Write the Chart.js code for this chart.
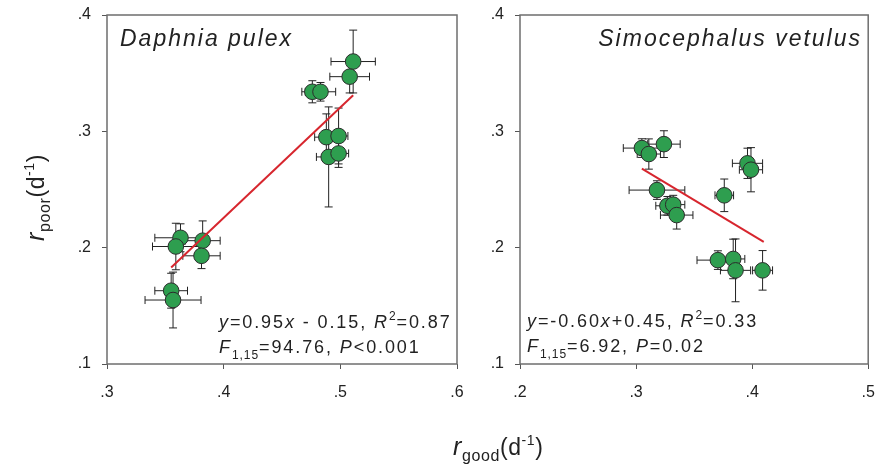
<!DOCTYPE html>
<html>
<head>
<meta charset="utf-8">
<script src="https://cdn.jsdelivr.net/npm/chart.js@4.4.1/dist/chart.umd.min.js"></script>
<style>
  html, body { margin: 0; padding: 0; background: #fff; overflow: hidden; }
  #wrap { position: relative; width: 877px; height: 465px; font-family: 'Liberation Sans', Arial, sans-serif; color: #222; }
  .pane { position: absolute; top: 0; }
  .atitle { position: absolute; font-size: 23px; white-space: nowrap; line-height: 26px; height: 26px; letter-spacing: 0.6px; }
  .atitle i { font-size: 25px; }
  .atitle sub { font-size: 16px; vertical-align: -6px; }
  .atitle sup { font-size: 14px; vertical-align: 10px; }
</style>
</head>
<body>
<div id="wrap">
  <div class="pane" style="left:0;width:470px;height:465px"><canvas id="c1" width="470" height="465"></canvas></div>
  <div class="pane" style="left:470px;width:407px;height:465px"><canvas id="c2" width="407" height="465"></canvas></div>
  <div class="atitle" id="xtitle" style="left:453px;top:427px"><i>r</i><sub>good</sub>(d<sup>-1</sup>)</div>
  <div class="atitle" id="ytitle" style="left:-18px;top:181px;width:94px;transform:rotate(-90deg);transform-origin:center"><i>r</i><sub>poor</sub>(d<sup>-1</sup>)</div>
</div>
<script>
// Daphnia pulex: mean r on good food (x), poor food (y), with SE
const dpX = [0.511, 0.508, 0.476, 0.483, 0.488, 0.490, 0.4985, 0.4985, 0.363, 0.359, 0.382, 0.381, 0.355, 0.3566];
const dpY = [0.360, 0.347, 0.334, 0.334, 0.295, 0.278, 0.296, 0.281, 0.2085, 0.201, 0.206, 0.193, 0.163, 0.155];
const dpXErr = [0.019, 0.017, 0.009, 0.013, 0.010, 0.0105, 0.008, 0.0086, 0.022, 0.020, 0.015, 0.016, 0.014, 0.024];
const dpYErr = [0.027, 0.014, 0.0095, 0.008, 0.020, 0.043, 0.024, 0.012, 0.012, 0.020, 0.017, 0.011, 0.015, 0.024];
const dpLineX = [0.355, 0.511];
const dpLineY = [0.183, 0.331];

// Simocephalus vetulus
const svX = [0.305, 0.311, 0.324, 0.396, 0.399, 0.376, 0.318, 0.327, 0.332, 0.335, 0.3705, 0.3837, 0.3857, 0.409];
const svY = [0.2856, 0.2805, 0.289, 0.2725, 0.267, 0.245, 0.2495, 0.236, 0.237, 0.228, 0.1893, 0.1903, 0.1805, 0.1805];
const svXErr = [0.016, 0.010, 0.014, 0.013, 0.010, 0.008, 0.024, 0.010, 0.010, 0.014, 0.018, 0.010, 0.013, 0.0086];
const svYErr = [0.008, 0.013, 0.0115, 0.013, 0.019, 0.014, 0.008, 0.008, 0.008, 0.012, 0.008, 0.017, 0.027, 0.017];
const svLineX = [0.305, 0.410];
const svLineY = [0.268, 0.205];

const dpXTicks = [0.3, 0.4, 0.5, 0.6];
const svXTicks = [0.2, 0.3, 0.4, 0.5];
const yTicks = [0.1, 0.2, 0.3, 0.4];

const FONT = "'Liberation Sans', Arial, sans-serif";
const INK = '#222';

function toPoints(xs, ys) {
    return xs.map((x, i) => ({ x: x, y: ys[i] }));
}

// draw text one character at a time so the wide letter spacing of the original can be kept
function drawSpaced(ctx, text, x, y, spacing) {
    for (const ch of text) {
        ctx.fillText(ch, x, y);
        x += ctx.measureText(ch).width + spacing;
    }
    return x;
}

function segFont(seg, size) {
    const s = (seg.sub || seg.sup) ? Math.round(size * 0.68) : size;
    return (seg.it ? 'italic ' : '') + s + 'px ' + FONT;
}

function richWidth(ctx, segs, size, spacing) {
    let w = 0;
    segs.forEach(seg => {
        ctx.font = segFont(seg, size);
        for (const ch of seg.t) w += ctx.measureText(ch).width + spacing;
    });
    return w - spacing;
}

function drawRich(ctx, segs, x, y, size, spacing) {
    segs.forEach(seg => {
        ctx.font = segFont(seg, size);
        let yy = y;
        if (seg.sub) yy = y + size * 0.33;
        if (seg.sup) yy = y - size * 0.42;
        x = drawSpaced(ctx, seg.t, x, yy, seg.sub || seg.sup ? spacing * 0.5 : spacing);
    });
}

const errorBars = {
    id: 'errorBars',
    beforeDatasetsDraw(chart, args, opts) {
        const { ctx, scales: { x, y } } = chart;
        const cap = 4;
        ctx.save();
        ctx.strokeStyle = '#222';
        ctx.lineWidth = 1;
        opts.xs.forEach((xv, i) => {
            const px = x.getPixelForValue(xv);
            const py = y.getPixelForValue(opts.ys[i]);
            const x0 = x.getPixelForValue(xv - opts.xErr[i]);
            const x1 = x.getPixelForValue(xv + opts.xErr[i]);
            const y0 = y.getPixelForValue(opts.ys[i] - opts.yErr[i]);
            const y1 = y.getPixelForValue(opts.ys[i] + opts.yErr[i]);
            ctx.beginPath();
            ctx.moveTo(x0, py); ctx.lineTo(x1, py);
            ctx.moveTo(x0, py - cap); ctx.lineTo(x0, py + cap);
            ctx.moveTo(x1, py - cap); ctx.lineTo(x1, py + cap);
            ctx.moveTo(px, y0); ctx.lineTo(px, y1);
            ctx.moveTo(px - cap, y0); ctx.lineTo(px + cap, y0);
            ctx.moveTo(px - cap, y1); ctx.lineTo(px + cap, y1);
            ctx.stroke();
        });
        ctx.restore();
    }
};

const frameAndText = {
    id: 'frameAndText',
    afterDraw(chart, args, opts) {
        const { ctx, chartArea: a } = chart;
        ctx.save();
        ctx.strokeStyle = '#6e6e6e';
        ctx.lineWidth = 1.5;
        ctx.strokeRect(a.left, a.top, a.right - a.left, a.bottom - a.top);

        ctx.fillStyle = INK;
        ctx.textBaseline = 'alphabetic';
        const sp = [{ t: opts.species, it: true }];
        const sw = richWidth(ctx, sp, 23, 2);
        const sx = opts.speciesAlign === 'right' ? opts.speciesX - sw : opts.speciesX;
        drawRich(ctx, sp, sx, 46, 23, 2);

        drawRich(ctx, opts.line1, opts.textX, opts.textY, 18, 1.9);
        drawRich(ctx, opts.line2, opts.textX, opts.textY + 25, 18, 1.9);
        ctx.restore();
    }
};

function tickFmt(v) {
    return v.toFixed(1).replace(/^0/, '');
}

function makeChart(id, cfg) {
    const ctx = document.getElementById(id).getContext('2d');
    return new Chart(ctx, {
        type: 'scatter',
        data: {
            datasets: [{
                type: 'line',
                data: toPoints(cfg.lineX, cfg.lineY),
                borderColor: '#d7262e',
                borderWidth: 2,
                pointRadius: 0,
                fill: false,
                order: 0
            }, {
                data: toPoints(cfg.xs, cfg.ys),
                backgroundColor: '#2e9e4f',
                borderColor: '#2b2b2b',
                borderWidth: 1,
                pointRadius: 7.8,
                pointHoverRadius: 7.8,
                order: 1
            }]
        },
        options: {
            responsive: false,
            animation: false,
            devicePixelRatio: 1,
            layout: { padding: { left: 0, right: cfg.padRight, top: 15, bottom: 0 } },
            plugins: {
                legend: { display: false },
                tooltip: { enabled: false },
                errorBars: { xs: cfg.xs, ys: cfg.ys, xErr: cfg.xErr, yErr: cfg.yErr },
                frameAndText: {
                    species: cfg.species, speciesX: cfg.speciesX, speciesAlign: cfg.speciesAlign,
                    line1: cfg.line1, line2: cfg.line2, textX: cfg.textX, textY: cfg.textY
                }
            },
            scales: {
                x: {
                    type: 'linear',
                    min: cfg.xTicks[0],
                    max: cfg.xTicks[cfg.xTicks.length - 1],
                    afterBuildTicks: s => { s.ticks = cfg.xTicks.map(v => ({ value: v })); },
                    // fixed axis box, no extra overflow padding
                    afterFit: s => { s.height = 101; s.paddingLeft = 0; s.paddingRight = 0; },
                    border: { display: false },
                    grid: { drawOnChartArea: false, drawTicks: true, tickLength: 5, color: '#555' },
                    ticks: { callback: tickFmt, color: INK, padding: 14, font: { family: FONT, size: 16 } }
                },
                y: {
                    type: 'linear',
                    min: 0.1,
                    max: 0.4,
                    afterBuildTicks: s => { s.ticks = yTicks.map(v => ({ value: v })); },
                    afterFit: s => { s.width = cfg.yWidth; s.paddingTop = 0; s.paddingBottom = 0; },
                    border: { display: false },
                    grid: { drawOnChartArea: false, drawTicks: true, tickLength: 5, color: '#555' },
                    ticks: { callback: tickFmt, color: INK, padding: 11, font: { family: FONT, size: 16 } }
                }
            }
        },
        plugins: [errorBars, frameAndText]
    });
}

makeChart('c1', {
    xs: dpX, ys: dpY, xErr: dpXErr, yErr: dpYErr,
    lineX: dpLineX, lineY: dpLineY,
    xTicks: dpXTicks, yWidth: 107, padRight: 13,
    species: 'Daphnia pulex', speciesX: 120, speciesAlign: 'left',
    textX: 219, textY: 328,
    line1: [{ t: 'y', it: true }, { t: '=0.95' }, { t: 'x', it: true }, { t: ' - 0.15, ' }, { t: 'R', it: true }, { t: '2', sup: true }, { t: '=0.87' }],
    line2: [{ t: 'F', it: true }, { t: '1,15', sub: true }, { t: '=94.76, ' }, { t: 'P', it: true }, { t: '<0.001' }]
});

makeChart('c2', {
    xs: svX, ys: svY, xErr: svXErr, yErr: svYErr,
    lineX: svLineX, lineY: svLineY,
    xTicks: svXTicks, yWidth: 50, padRight: 8,
    species: 'Simocephalus vetulus', speciesX: 390, speciesAlign: 'right',
    textX: 57, textY: 327,
    line1: [{ t: 'y', it: true }, { t: '=-0.60' }, { t: 'x', it: true }, { t: '+0.45, ' }, { t: 'R', it: true }, { t: '2', sup: true }, { t: '=0.33' }],
    line2: [{ t: 'F', it: true }, { t: '1,15', sub: true }, { t: '=6.92, ' }, { t: 'P', it: true }, { t: '=0.02' }]
});
</script>
</body>
</html>
